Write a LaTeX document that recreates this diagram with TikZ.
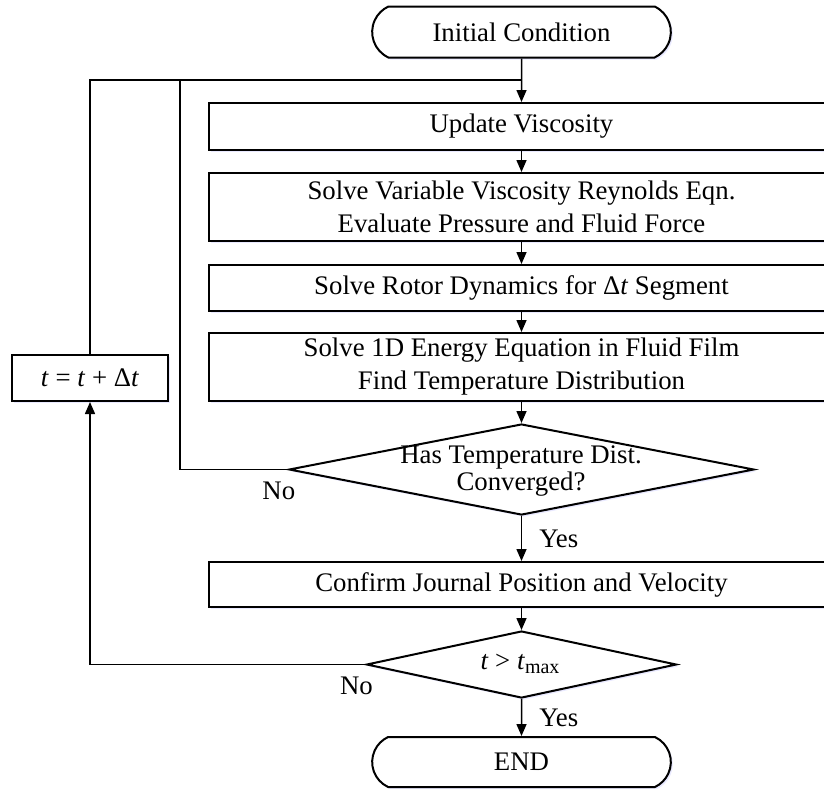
\documentclass[tikz,border=0pt]{standalone}
\usepackage{fontspec}
\setmainfont{Liberation Serif}
\usetikzlibrary{arrows.meta, shapes.geometric, shapes.misc, shadows}

\begin{document}
\begin{tikzpicture}[x = .5pt, y = -.5pt, >={Triangle[length = 6pt, width = 5pt]},
    every node/.style = {font = \fontsize{13.4}{16.5}\selectfont},
    glow/.style = {drop shadow = {shadow xshift = 1pt, shadow yshift = -1pt, fill = blue!12, opacity = .7}},
    proc/.style = {glow, draw, fill = white, line width = 1pt, rectangle, minimum width = 312.5pt, inner sep = 0pt, align = center},
    term/.style = {glow, draw, fill = white, line width = 1pt, rounded rectangle, rounded rectangle arc length = 130, minimum width = 156pt, minimum height = 25.5pt},
    decide/.style = {glow, draw, fill = white, line width = 1pt, diamond, inner sep = 0pt},
    link/.style = {line width = .75pt},
    lbl/.style = {inner sep = 0pt},
    yes/.style = {lbl, anchor = west, xshift = 8.5pt},
    no/.style = {lbl, anchor = north east, xshift = 4pt, yshift = -6pt}
  ]

    \useasboundingbox (0, 0) rectangle (824, 788);

    \node [term] (init) at (521.5, 32) {Initial Condition};
    \node [proc, minimum height = 23.5pt] (visc) at (521.5, 126.5) {Update Viscosity};
    \node [proc, minimum height = 34pt] (reyn) at (521.5, 207) {Solve Variable Viscosity Reynolds Eqn.\\ Evaluate Pressure and Fluid Force};
    \node [proc, minimum height = 23pt] (rotor) at (521.5, 288) {Solve Rotor Dynamics for Δ\textit{t} Segment};
    \node [proc, minimum height = 34pt] (energy) at (521.5, 367) {Solve 1D Energy Equation in Fluid Film\\ Find Temperature Distribution};
    \node [decide, minimum width = 232.5pt, minimum height = 45.5pt] (conv) at (521.5, 469.5) {};
    \node [lbl, align = center, font = \fontsize{13.4}{13.5}\selectfont] (convtext) at (521, 471) {Has Temperature Dist.\\ Converged?};
    \node [proc, minimum height = 22.5pt] (confirm) at (521.5, 584.5) {Confirm Journal Position and Velocity};
    \node [decide, minimum width = 155pt, minimum height = 33.5pt] (tmax) at (521.5, 664.5) {};
    \node [lbl] (tmaxtext) at (520, 664) {\textit{t} > \textit{t}\raisebox{-.3ex}{\fontsize{10}{10}\selectfont max}};
    \node [term, minimum height = 25pt] (finish) at (521.5, 762) {END};
    \node [proc, minimum width = 78pt, minimum height = 23pt] (tstep) at (90, 378) {\textit{t} = \textit{t} + Δ\textit{t}};

    \coordinate (join) at (521.5, 80);
    \coordinate (bend) at (180, 80);

    \draw [link, ->] (init) -- (visc);
    \foreach \a/\b in {visc/reyn, reyn/rotor, rotor/energy, energy/conv, confirm/tmax} {
      \draw [link, ->] (\a) -- (\b);
    }
    \draw [link, ->] (conv) -- node [yes] {Yes} (confirm);
    \draw [link, ->] (tmax) -- node [yes] {Yes} (finish);
    \draw [link] (tstep) |- (join);
    \draw [link] (conv.west) node [no] {No} -| (bend);
    \draw [link, ->] (tmax.west) node [no] {No} -| (tstep);
\end{tikzpicture}
\end{document}
